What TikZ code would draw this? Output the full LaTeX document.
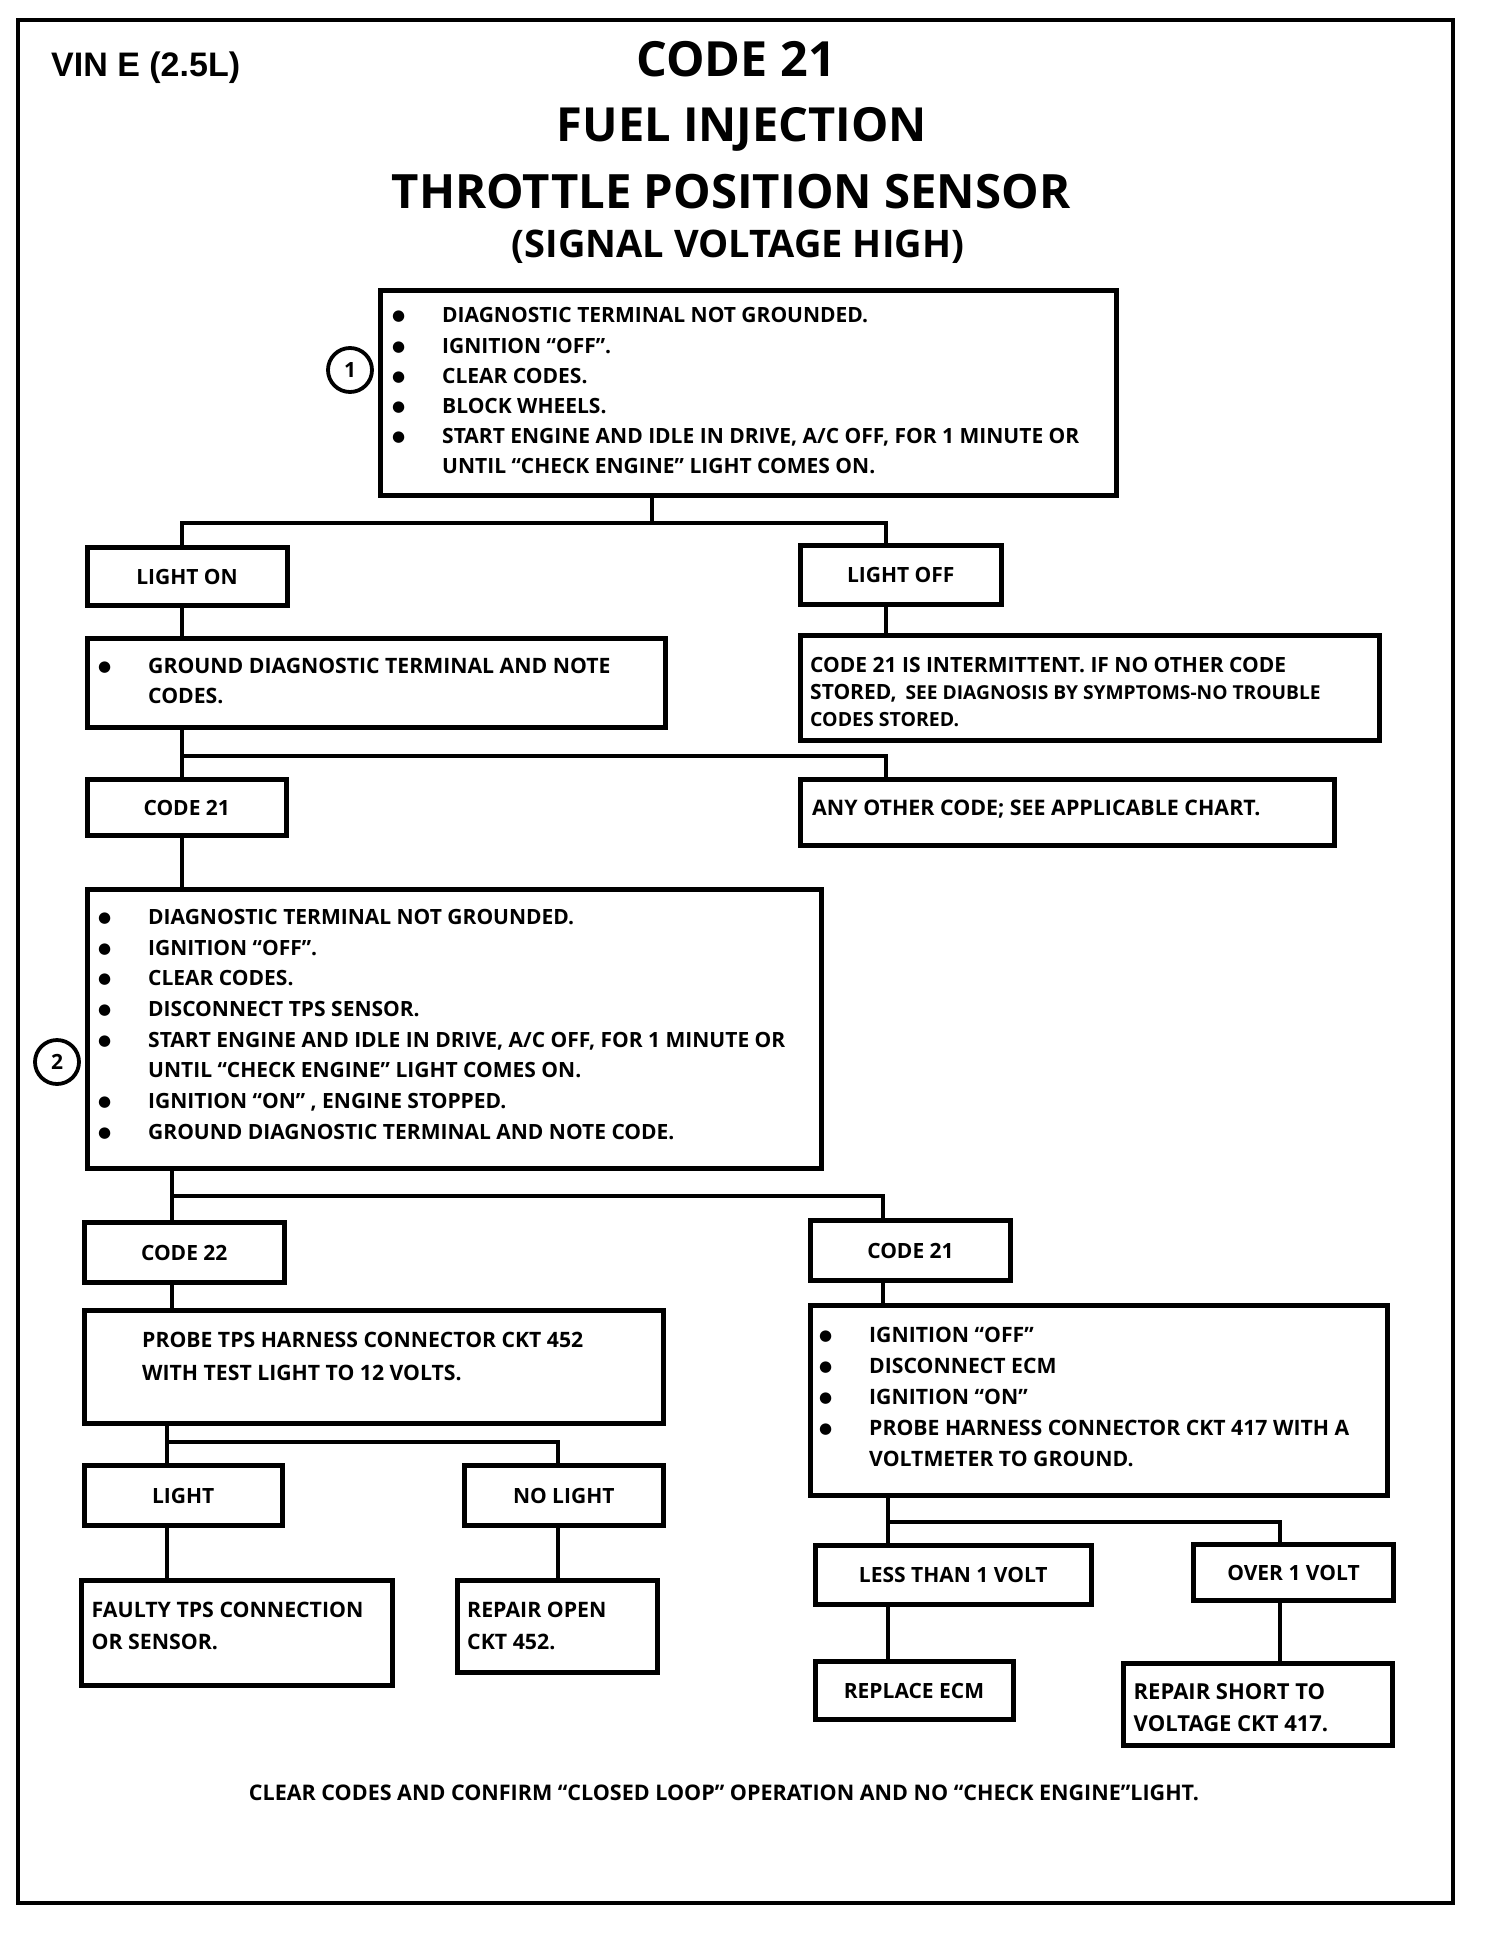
\documentclass[tikz,border=0pt]{standalone}
\usepackage{fontspec}
\setmainfont{Open Sans}
\newfontfamily\arialb{Liberation Sans}
\newfontfamily\dejavu{DejaVu Sans}
\newcommand\bulit{\makebox[50pt][l]{\raisebox{2pt}{\dejavu\fontsize{15}{15}\selectfont ●}}}
\newcommand\indt{\makebox[50pt][l]{}}
\begin{document}
\begin{tikzpicture}[x=1pt,y=-1pt,
  box/.style={draw,line width=5pt,inner sep=0pt,anchor=north west},
  lbl/.style={box,font=\bfseries\fontsize{21}{26}\selectfont},
  txt/.style={anchor=north west,inner sep=0pt,align=left,font=\bfseries\fontsize{21}{30.1}\selectfont},
  conn/.style={line width=3.5pt},
  num/.style={draw,circle,line width=3.8pt,minimum size=44pt,inner sep=0pt,font=\bfseries\fontsize{21}{24}\selectfont}]
\useasboundingbox (0,0) rectangle (1504,1940);
\fill[white] (0,0) rectangle (1504,1940);
% frame
\draw[line width=4.5pt] (18,20) rectangle (1453,1903);
% titles
\node[anchor=base west,inner sep=0pt,font=\arialb\bfseries\fontsize{34}{36}\selectfont] (vin) at (51,77) {VIN E (2.5L)};
\node[anchor=base,inner sep=0pt,font=\bfseries\fontsize{48.5}{50}\selectfont] (t1) at (736,77) {CODE 21};
\node[anchor=base,inner sep=0pt,font=\bfseries\fontsize{47}{50}\selectfont] (t2) at (742,142) {FUEL INJECTION};
\node[anchor=base,inner sep=0pt,font=\bfseries\fontsize{47.3}{50}\selectfont] (t3) at (731,208) {THROTTLE POSITION SENSOR};
\node[anchor=base,inner sep=0pt,font=\bfseries\fontsize{38}{40}\selectfont] (t4) at (738,257) {(SIGNAL VOLTAGE HIGH)};
% boxes
\node[box,minimum width=736pt,minimum height=205pt] (b1) at (378,288) {};
\node[lbl,minimum width=200pt,minimum height=58pt] (lon) at (84.5,545) {LIGHT ON};
\node[lbl,minimum width=200.5pt,minimum height=59pt] (loff) at (798,543) {LIGHT OFF};
\node[box,minimum width=578pt,minimum height=89pt] (gnd) at (84.5,636) {};
\node[box,minimum width=579pt,minimum height=105pt] (int) at (798,633) {};
\node[lbl,minimum width=199.5pt,minimum height=56pt] (c21a) at (84.5,777) {CODE 21};
\node[box,minimum width=534pt,minimum height=66pt] (any) at (798,777) {};
\node[box,minimum width=734pt,minimum height=279pt] (b2) at (84.5,887) {};
\node[lbl,minimum width=200.5pt,minimum height=60pt] (c22) at (81.5,1220) {CODE 22};
\node[lbl,minimum width=200pt,minimum height=60pt] (c21b) at (808,1218) {CODE 21};
\node[box,minimum width=579pt,minimum height=113pt] (probe) at (81.5,1308) {};
\node[box,minimum width=577pt,minimum height=190pt] (ign) at (808,1303) {};
\node[lbl,minimum width=198.5pt,minimum height=60pt] (light) at (81.5,1463) {LIGHT};
\node[lbl,minimum width=198.5pt,minimum height=60pt] (nolight) at (462,1463) {NO LIGHT};
\node[lbl,minimum width=276.5pt,minimum height=59pt] (less) at (812.5,1543) {LESS THAN 1 VOLT};
\node[lbl,minimum width=200pt,minimum height=56pt] (over) at (1191,1542) {OVER 1 VOLT};
\node[box,minimum width=311pt,minimum height=105pt] (faulty) at (78.5,1578) {};
\node[box,minimum width=199.5pt,minimum height=92pt] (ropen) at (455,1578) {};
\node[lbl,minimum width=198pt,minimum height=58pt] (recm) at (812.5,1659) {REPLACE ECM};
\node[box,minimum width=269.5pt,minimum height=82pt] (rshort) at (1120.5,1661) {};
% texts
\node[txt] (tb1) at (392,307.5) {\bulit DIAGNOSTIC TERMINAL NOT GROUNDED.\\
\bulit IGNITION “OFF”.\\
\bulit CLEAR CODES.\\
\bulit BLOCK WHEELS.\\
\bulit START ENGINE AND IDLE IN DRIVE, A/C OFF, FOR 1 MINUTE OR\\
\indt UNTIL “CHECK ENGINE” LIGHT COMES ON.};
\node[txt,font=\bfseries\fontsize{21.2}{30.4}\selectfont] (tgnd) at (98,657.5) {\bulit GROUND DIAGNOSTIC TERMINAL AND NOTE\\
\indt CODES.};
\node[txt,font=\bfseries\fontsize{21}{27}\selectfont] (tint) at (810,657.5) {CODE 21 IS INTERMITTENT. IF NO OTHER CODE\\
STORED,\, {\fontsize{19.2}{26}\selectfont SEE DIAGNOSIS BY SYMPTOMS-NO TROUBLE}\\
{\fontsize{19.5}{26}\selectfont CODES STORED.}};
\node[txt,font=\bfseries\fontsize{21.4}{27}\selectfont] (tany) at (812,799.5) {ANY OTHER CODE; SEE APPLICABLE CHART.};
\node[txt,font=\bfseries\fontsize{21}{30.7}\selectfont] (tb2) at (98,909) {\bulit DIAGNOSTIC TERMINAL NOT GROUNDED.\\
\bulit IGNITION “OFF”.\\
\bulit CLEAR CODES.\\
\bulit DISCONNECT TPS SENSOR.\\
\bulit START ENGINE AND IDLE IN DRIVE, A/C OFF, FOR 1 MINUTE OR\\
\indt UNTIL “CHECK ENGINE” LIGHT COMES ON.\\
\bulit IGNITION “ON” , ENGINE STOPPED.\\
\bulit GROUND DIAGNOSTIC TERMINAL AND NOTE CODE.};
\node[txt,font=\bfseries\fontsize{21.2}{33}\selectfont] (tprobe) at (142,1332) {PROBE TPS HARNESS CONNECTOR CKT 452\\
WITH TEST LIGHT TO 12 VOLTS.};
\node[txt,font=\bfseries\fontsize{21.2}{31}\selectfont] (tign) at (819,1327) {\bulit IGNITION “OFF”\\
\bulit DISCONNECT ECM\\
\bulit IGNITION “ON”\\
\bulit PROBE HARNESS CONNECTOR CKT 417 WITH A\\
\indt VOLTMETER TO GROUND.};
\node[txt,font=\bfseries\fontsize{21.3}{32}\selectfont] (tfaulty) at (91.5,1602) {FAULTY TPS CONNECTION\\OR SENSOR.};
\node[txt,font=\bfseries\fontsize{21.3}{32}\selectfont] (tropen) at (467,1602) {REPAIR OPEN\\CKT 452.};
\node[txt,font=\bfseries\fontsize{22}{32}\selectfont] (trshort) at (1133.5,1683) {REPAIR SHORT TO\\VOLTAGE CKT 417.};
\node[anchor=base,inner sep=0pt,font=\bfseries\fontsize{21.5}{24}\selectfont] (foot) at (724,1800) {CLEAR CODES AND CONFIRM “CLOSED LOOP” OPERATION AND NO “CHECK ENGINE”LIGHT.};
% numbered circles
\node[num] (n1) at (350,370) {1};
\node[num] (n2) at (57,1062) {2};
% junction coordinates
\coordinate (s1) at (652,523);
\coordinate (j1a) at (182,523);
\coordinate (j1b) at (886,523);
\coordinate (j2a) at (182,756);
\coordinate (j2b) at (886,756);
\coordinate (j3a) at (172,1196);
\coordinate (j3b) at (883,1196);
\coordinate (j4a) at (167,1442);
\coordinate (j4b) at (558,1442);
\coordinate (j5a) at (888,1522);
\coordinate (j5b) at (1280,1522);
% connectors
\draw[conn] (b1.south -| s1) -- (s1);
\draw[conn] (lon.north -| j1a) -- (j1a) -- (j1b) -- (loff.north -| j1b);
\draw[conn] (lon.south -| j1a) -- (gnd.north -| j1a);
\draw[conn] (loff.south -| j1b) -- (int.north -| j1b);
\draw[conn] (gnd.south -| j2a) -- (c21a.north -| j2a);
\draw[conn] (j2a) -- (j2b) -- (any.north -| j2b);
\draw[conn] (c21a.south -| j2a) -- (b2.north -| j2a);
\draw[conn] (b2.south -| j3a) -- (c22.north -| j3a);
\draw[conn] (j3a) -- (j3b) -- (c21b.north -| j3b);
\draw[conn] (c22.south -| j3a) -- (probe.north -| j3a);
\draw[conn] (c21b.south -| j3b) -- (ign.north -| j3b);
\draw[conn] (probe.south -| j4a) -- (light.north -| j4a);
\draw[conn] (j4a) -- (j4b) -- (nolight.north -| j4b);
\draw[conn] (light.south -| j4a) -- (faulty.north -| j4a);
\draw[conn] (nolight.south -| j4b) -- (ropen.north -| j4b);
\draw[conn] (ign.south -| j5a) -- (less.north -| j5a);
\draw[conn] (j5a) -- (j5b) -- (over.north -| j5b);
\draw[conn] (less.south -| j5a) -- (recm.north -| j5a);
\draw[conn] (over.south -| j5b) -- (rshort.north -| j5b);
\end{tikzpicture}
\end{document}
